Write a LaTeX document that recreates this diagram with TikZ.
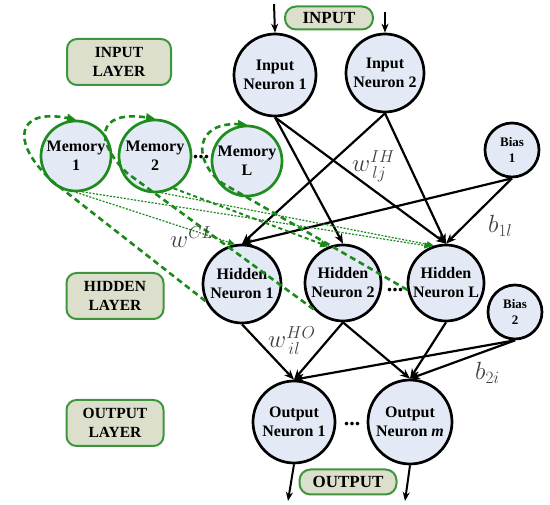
\documentclass[tikz,border=0pt]{standalone}
\usepackage{fontspec}
\setmainfont{Liberation Serif}
\usetikzlibrary{arrows.meta,calc}
\definecolor{nfill}{HTML}{E4EAF5}
\definecolor{lfill}{HTML}{DCDFCB}
\definecolor{lgreen}{HTML}{3C963C}
\definecolor{mgreen}{HTML}{1E8C1E}
\definecolor{dgreen}{HTML}{1A8A1A}
\tikzset{
  neuron/.style={circle, draw=black, line width=2.7pt, fill=nfill, align=center, inner sep=0pt,
    font=\bfseries\fontsize{16}{19}\selectfont},
  memory/.style={neuron, draw=mgreen},
  bias/.style={neuron, font=\bfseries\fontsize{13}{16}\selectfont},
  layerbox/.style={rounded corners=10pt, draw=lgreen, line width=2pt, fill=lfill, align=center,
    font=\bfseries\fontsize{15.5}{19}\selectfont, minimum width=97pt, minimum height=46pt},
  pill/.style={rounded corners=11pt, draw=lgreen, line width=2pt, fill=lfill,
    font=\bfseries\fontsize{17}{20}\selectfont, inner sep=0pt},
  edge/.style={line width=2.2pt, -{Stealth[length=10pt,width=8pt]}},
  ioarrow/.style={line width=2pt, -{Stealth[length=9pt,width=7pt]}},
  copyline/.style={dgreen, line width=2.6pt, dash pattern=on 6pt off 4pt, -{Triangle[length=9pt,width=8pt]}},
  ctxline/.style={dgreen, line width=1.2pt, dash pattern=on 2pt off 1.5pt, -{Triangle[length=7pt,width=6pt]}},
  ctxthick/.style={dgreen, line width=2pt, dash pattern=on 4pt off 3pt, -{Triangle[length=8pt,width=7pt]}},
  dots/.style={font=\bfseries\fontsize{22}{22}\selectfont, inner sep=0pt},
  wlabel/.style={text=black!75, font=\fontsize{26}{28}\selectfont, inner sep=0pt, anchor=base west}
}
\begin{document}
\begin{tikzpicture}[x=1pt,y=-1pt]
\useasboundingbox (0,0) rectangle (550,505);

% layer boxes
\node[layerbox, minimum width=104pt] (linput) at (119,62) {INPUT\\LAYER};
\node[layerbox] (lhidden) at (115,296) {HIDDEN\\LAYER};
\node[layerbox] (loutput) at (115,423) {OUTPUT\\LAYER};

% pills
\node[pill, minimum width=88pt, minimum height=23pt] (pin) at (329,18) {INPUT};
\node[pill, minimum width=97pt, minimum height=25pt] (pout) at (348,482) {OUTPUT};

% neurons
\node[neuron, minimum size=82pt] (in1) at (275,75) {Input\\Neuron 1};
\node[neuron, minimum size=78pt] (in2) at (385,73) {Input\\Neuron 2};
\node[bias, minimum size=54pt] (b1) at (512,150) {Bias\\1};
\node[memory, minimum size=70pt] (m1) at (76,156) {Memory\\1};
\node[memory, minimum size=72pt] (m2) at (155,156) {Memory\\2};
\node[memory, minimum size=70pt] (mL) at (247,161) {Memory\\L};
\node[neuron, minimum size=78pt] (h1) at (242,284) {Hidden\\Neuron 1};
\node[neuron, minimum size=76pt] (h2) at (343,283) {Hidden\\Neuron 2};
\node[neuron, minimum size=76pt] (hL) at (446,283) {Hidden\\Neuron L};
\node[bias, minimum size=54pt] (b2) at (515,312) {Bias\\2};
\node[neuron, minimum size=82pt] (o1) at (294,422) {Output\\Neuron 1};
\node[neuron, minimum size=84pt] (om) at (410,422) {Output\\Neuron \textit{m}};

% ellipses
\node[dots] (d1) at (201,157) {...};
\node[dots] (d2) at (395,290) {...};
\node[dots] (d3) at (352,424) {...};

% input/output arrows
\coordinate (t1) at (274,4);
\coordinate (t2) at (385,12);
\coordinate (e1) at (288,501);
\coordinate (e2) at (405,501);
\draw[ioarrow] (t1) -- (in1.north);
\draw[ioarrow] (t2) -- (in2.north);
\draw[ioarrow] (o1.south) -- (e1);
\draw[ioarrow] (om.south) -- (e2);

% black weighted edges
\draw[edge] (in1.south) -- (h2.north);
\draw[edge] (in1.south) -- (hL.north);
\draw[edge] (in2.south) -- (h1.north);
\draw[edge] (in2.south) -- (hL.north);
\draw[edge] (b1.south) -- (h1.north);
\draw[edge] (b1.south) -- (hL.north);
\draw[edge] (h1.south) -- (o1.north);
\draw[edge] (h2.south) -- (o1.north);
\draw[edge] (h2.south) -- (om.north);
\draw[edge] (hL.south) -- (om.north);
\draw[edge] (b2.south) -- (o1.north);
\draw[edge] (b2.south) -- (om.north);

% context (memory -> hidden) lines
\draw[ctxline] (m1.south) -- (h1.100);
\draw[ctxline] (m1.-80) -- (hL.112);
\draw[ctxline] (m2.-80) -- (hL.108);
\draw[ctxthick] (m2.-60) -- (h2.112);

% copy (hidden -> memory) lines
\draw[copyline] (h1.205) -- (52,181) .. controls (10,142) and (16,108) .. (m1.north);
\draw[copyline] (h2.222) -- (127,173) .. controls (95,142) and (95,110) .. (m2.north);
\draw[copyline] (hL.190) -- (222,183) .. controls (192,160) and (195,122) .. (mL.north);

% weight labels
\node[wlabel] (lih) at (352,172) {$w^{IH}_{\,lj}$};
\node[wlabel] (lcl) at (170,248) {$w^{CL}$};
\node[wlabel] (lho) at (268,348) {$w^{HO}_{\,il}$};
\node[wlabel] (lb1) at (488,233) {$b_{1l}$};
\node[wlabel] (lb2) at (475,380) {$b_{2i}$};
\end{tikzpicture}
\end{document}
